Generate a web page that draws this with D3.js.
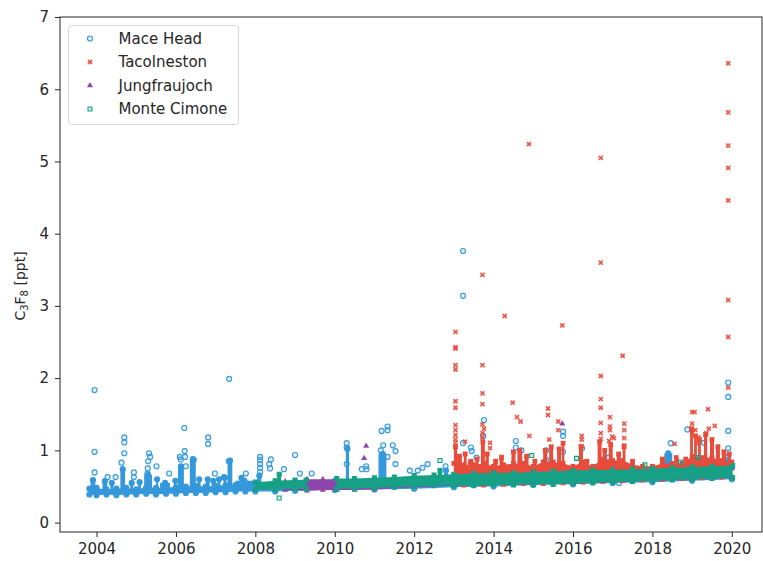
<!DOCTYPE html>
<html>
<head>
<meta charset="utf-8">
<script src="https://cdn.jsdelivr.net/npm/d3@7"></script>
<style>
body { margin: 0; background: #fff; }
text { font-family: "DejaVu Sans", sans-serif; }
</style>
</head>
<body>
<svg id="chart" width="763" height="561"></svg>
<script>
var seriesNames = ["Mace Head", "Tacolneston", "Jungfraujoch", "Monte Cimone"];
var xTicks = [2004, 2006, 2008, 2010, 2012, 2014, 2016, 2018, 2020];
var yTicks = [0, 1, 2, 3, 4, 5, 6, 7];

// dense bulk of each record: [year, low, high]
var maceBand = [
    [2003.82, 0.39, 0.47], [2004.0, 0.38, 0.48], [2004.25, 0.39, 0.46], [2004.5, 0.38, 0.47],
    [2004.75, 0.39, 0.48], [2005.0, 0.39, 0.46], [2005.25, 0.40, 0.49], [2005.5, 0.39, 0.48],
    [2005.75, 0.40, 0.49], [2006.0, 0.40, 0.49], [2006.25, 0.41, 0.50], [2006.5, 0.41, 0.51],
    [2006.75, 0.41, 0.50], [2007.0, 0.42, 0.51], [2007.25, 0.42, 0.52], [2007.5, 0.43, 0.52],
    [2007.75, 0.43, 0.53], [2008.0, 0.43, 0.54], [2008.5, 0.43, 0.55], [2009.0, 0.44, 0.56],
    [2010.0, 0.45, 0.58], [2011.0, 0.46, 0.60], [2012.0, 0.47, 0.62], [2013.0, 0.49, 0.64],
    [2014.0, 0.50, 0.65], [2015.0, 0.52, 0.67], [2016.0, 0.53, 0.68], [2017.0, 0.55, 0.70],
    [2018.0, 0.56, 0.72], [2019.0, 0.58, 0.74], [2020.0, 0.60, 0.76]
];
var tacoBand = [
    [2013.0, 0.52, 0.82], [2013.25, 0.52, 0.80], [2013.5, 0.52, 0.80], [2013.75, 0.52, 0.82],
    [2014.0, 0.53, 0.78], [2014.25, 0.53, 0.80], [2014.5, 0.53, 0.82], [2014.75, 0.54, 0.82],
    [2015.0, 0.54, 0.78], [2015.25, 0.54, 0.84], [2015.5, 0.55, 0.84], [2015.75, 0.55, 0.82],
    [2016.0, 0.55, 0.78], [2016.25, 0.56, 0.84], [2016.5, 0.56, 0.78], [2016.75, 0.57, 0.88],
    [2017.0, 0.57, 0.86], [2017.25, 0.58, 0.86], [2017.5, 0.58, 0.80], [2017.75, 0.59, 0.78],
    [2018.0, 0.59, 0.78], [2018.25, 0.60, 0.82], [2018.5, 0.60, 0.82], [2018.75, 0.61, 0.82],
    [2019.0, 0.61, 0.92], [2019.25, 0.62, 0.90], [2019.5, 0.62, 0.90], [2019.75, 0.63, 0.86],
    [2020.0, 0.63, 0.84]
];
var jungBand = [
    [2008.75, 0.45, 0.57], [2009.3, 0.44, 0.60], [2009.7, 0.45, 0.60], [2010.05, 0.45, 0.60],
    [2010.5, 0.45, 0.59], [2011.0, 0.46, 0.60], [2012.0, 0.49, 0.62], [2013.0, 0.51, 0.64],
    [2014.0, 0.52, 0.65], [2015.0, 0.53, 0.66], [2016.0, 0.54, 0.68], [2017.0, 0.56, 0.69],
    [2018.0, 0.58, 0.71], [2019.0, 0.60, 0.73], [2020.0, 0.62, 0.76]
];
var monteBand1 = [
    [2008.0, 0.46, 0.56], [2008.5, 0.46, 0.58], [2009.0, 0.47, 0.59], [2009.28, 0.47, 0.59]
];
var monteBand2 = [
    [2010.05, 0.47, 0.61], [2010.5, 0.47, 0.61], [2011.0, 0.48, 0.62], [2011.5, 0.49, 0.63],
    [2012.0, 0.50, 0.65], [2012.5, 0.51, 0.66], [2013.0, 0.51, 0.67], [2013.5, 0.51, 0.68],
    [2014.0, 0.52, 0.69], [2014.5, 0.52, 0.69], [2015.0, 0.53, 0.70], [2015.5, 0.53, 0.71],
    [2016.0, 0.54, 0.72], [2016.5, 0.55, 0.73], [2017.0, 0.56, 0.73], [2017.5, 0.57, 0.74],
    [2018.0, 0.58, 0.75], [2018.5, 0.59, 0.76], [2019.0, 0.60, 0.77], [2019.5, 0.61, 0.78],
    [2020.02, 0.62, 0.79]
];

// packed pollution episodes: [yearStart, yearEnd, low, high]
var maceColumns = [
    [2003.85, 2003.97, 0.42, 0.59], [2004.15, 2004.27, 0.42, 0.575], [2004.35, 2004.42, 0.42, 0.55],
    [2004.6, 2004.72, 0.42, 0.74], [2004.85, 2004.92, 0.42, 0.55], [2005.05, 2005.12, 0.42, 0.56],
    [2005.2, 2005.4, 0.42, 0.66], [2005.5, 2005.55, 0.42, 0.60], [2005.6, 2005.85, 0.42, 0.55],
    [2005.95, 2006.02, 0.43, 0.58], [2006.05, 2006.2, 0.43, 0.78], [2006.35, 2006.5, 0.43, 0.88],
    [2006.55, 2006.62, 0.43, 0.60], [2006.75, 2006.85, 0.44, 0.60], [2006.9, 2006.98, 0.44, 0.58],
    [2007.05, 2007.12, 0.44, 0.60], [2007.2, 2007.27, 0.45, 0.62], [2007.3, 2007.42, 0.45, 0.86],
    [2007.5, 2007.95, 0.45, 0.58], [2007.6, 2007.7, 0.45, 0.62], [2008.05, 2008.15, 0.46, 0.65],
    [2010.28, 2010.36, 0.5, 1.02], [2011.1, 2011.3, 0.52, 0.95], [2012.75, 2012.85, 0.55, 0.72],
    [2018.3, 2018.5, 0.65, 0.96], [2019.88, 2019.95, 0.68, 0.85]
];
var tacoColumns = [
    [2013.0, 2013.08, 0.6, 1.05], [2013.08, 2013.2, 0.6, 0.92], [2013.25, 2013.32, 0.6, 0.95],
    [2013.35, 2013.5, 0.6, 0.85], [2013.55, 2013.62, 0.6, 0.88], [2013.68, 2013.78, 0.6, 1.12],
    [2013.8, 2013.88, 0.6, 0.95], [2014.0, 2014.1, 0.6, 0.85], [2014.15, 2014.25, 0.6, 0.90],
    [2014.45, 2014.55, 0.6, 0.98], [2014.6, 2014.72, 0.6, 1.0], [2014.78, 2014.88, 0.6, 0.92],
    [2015.0, 2015.08, 0.6, 0.85], [2015.25, 2015.35, 0.6, 1.0], [2015.4, 2015.5, 0.6, 1.05],
    [2015.6, 2015.7, 0.6, 1.02], [2015.72, 2015.78, 0.6, 1.10], [2016.15, 2016.25, 0.6, 1.05],
    [2016.3, 2016.4, 0.6, 0.85], [2016.62, 2016.72, 0.62, 1.12], [2016.75, 2016.85, 0.62, 1.0],
    [2016.9, 2017.0, 0.62, 1.08], [2017.1, 2017.2, 0.62, 0.95], [2017.25, 2017.32, 0.62, 1.05],
    [2017.45, 2017.55, 0.62, 0.85], [2018.2, 2018.3, 0.64, 0.88], [2018.55, 2018.65, 0.64, 0.90],
    [2018.8, 2018.88, 0.64, 0.88], [2018.95, 2019.02, 0.66, 1.30], [2019.05, 2019.12, 0.66, 1.20],
    [2019.15, 2019.22, 0.66, 1.15], [2019.3, 2019.38, 0.66, 1.22], [2019.45, 2019.55, 0.66, 1.15],
    [2019.6, 2019.7, 0.66, 1.05], [2019.75, 2019.85, 0.66, 0.98], [2019.9, 2019.97, 0.66, 0.95]
];
var jungColumns = [];
var monteColumns = [
    [2008.55, 2008.65, 0.5, 0.67], [2012.6, 2012.7, 0.55, 0.72]
];

// individual readings: [year, ppt]
var macePoints = [
    [2003.95, 1.835], [2003.95, 0.98], [2003.95, 0.695], [2004.28, 0.63], [2004.48, 0.63],
    [2004.63, 0.83], [2004.70, 1.18], [2004.70, 1.11], [2004.70, 0.96], [2004.94, 0.695], [2004.94, 0.63],
    [2005.28, 0.68], [2005.29, 0.75], [2005.30, 0.85], [2005.32, 0.96], [2005.35, 0.91], [2005.51, 0.78],
    [2005.83, 0.68], [2006.10, 0.91], [2006.12, 0.875], [2006.21, 1.31], [2006.22, 0.99], [2006.23, 0.91],
    [2006.25, 0.78], [2006.45, 0.87], [2006.81, 1.18], [2006.81, 1.09], [2006.98, 0.68],
    [2007.21, 0.63], [2007.33, 0.85], [2007.34, 1.99], [2007.76, 0.68],
    [2008.12, 0.91], [2008.12, 0.87], [2008.12, 0.81], [2008.12, 0.76], [2008.12, 0.70],
    [2008.35, 0.81], [2008.37, 0.75], [2008.39, 0.875], [2008.72, 0.74], [2009.00, 0.935],
    [2009.12, 0.68], [2009.42, 0.68], [2010.30, 1.10], [2010.30, 1.04], [2010.30, 0.81],
    [2010.68, 0.74], [2010.79, 0.78], [2010.80, 0.74], [2011.16, 1.0], [2011.18, 1.27],
    [2011.21, 0.945], [2011.22, 1.07], [2011.33, 1.33], [2011.33, 1.28], [2011.33, 0.91],
    [2011.46, 1.07], [2011.53, 0.99], [2011.53, 0.81], [2011.89, 0.72], [2012.09, 0.72],
    [2012.21, 0.76], [2012.34, 0.81], [2012.79, 0.78], [2013.23, 3.76], [2013.23, 3.14],
    [2013.23, 1.10], [2013.43, 1.04], [2013.45, 0.99], [2013.57, 0.90], [2013.74, 1.20], [2013.76, 1.42],
    [2014.56, 1.13], [2014.56, 1.04], [2014.70, 1.0], [2015.32, 1.0], [2015.32, 0.87],
    [2015.75, 1.26], [2015.75, 1.20], [2015.75, 0.98], [2016.23, 1.03], [2016.90, 0.90], [2017.16, 0.55],
    [2018.46, 1.10], [2018.88, 1.29], [2019.30, 1.105], [2019.91, 1.94], [2019.91, 1.74],
    [2019.91, 1.27], [2019.91, 1.03], [2019.91, 0.91], [2019.91, 0.87]
];
var tacoPoints = [
    [2013.04, 2.64], [2013.04, 2.43], [2013.04, 2.41], [2013.04, 2.18], [2013.04, 2.12], [2013.04, 1.68],
    [2013.04, 1.59], [2013.04, 1.35], [2013.04, 1.28], [2013.04, 1.21], [2013.04, 1.15], [2013.04, 1.10],
    [2013.28, 1.12], [2013.72, 3.43], [2013.72, 2.18], [2013.72, 1.79], [2013.72, 1.64], [2013.72, 1.36],
    [2013.72, 1.24], [2013.72, 1.18], [2013.76, 1.30], [2013.91, 1.105], [2013.91, 1.03],
    [2014.20, 0.91], [2014.28, 2.86], [2014.48, 1.66], [2014.59, 1.46], [2014.68, 1.40],
    [2014.89, 5.24], [2014.90, 1.20], [2015.37, 1.58], [2015.37, 1.49], [2015.40, 1.15],
    [2015.63, 1.40], [2015.63, 1.28], [2015.73, 2.73], [2016.22, 1.20], [2016.22, 1.15], [2016.22, 1.06],
    [2016.70, 5.05], [2016.70, 3.60], [2016.70, 2.03], [2016.70, 1.71], [2016.70, 1.59], [2016.70, 1.38],
    [2016.70, 1.24], [2016.70, 1.16], [2016.91, 1.13], [2016.93, 1.46], [2016.93, 1.33], [2016.93, 1.28],
    [2016.99, 1.19], [2017.03, 1.17], [2017.25, 2.31], [2017.29, 1.37], [2017.29, 1.28], [2017.29, 1.17],
    [2017.29, 1.07], [2018.56, 1.09], [2018.87, 0.82], [2019.00, 1.53], [2019.00, 1.37], [2019.00, 1.28],
    [2019.00, 1.24], [2019.06, 1.53], [2019.08, 1.28], [2019.16, 1.18], [2019.16, 1.10],
    [2019.36, 1.24], [2019.40, 1.57], [2019.42, 1.30], [2019.57, 1.34],
    [2019.91, 6.36], [2019.91, 5.68], [2019.91, 5.22], [2019.91, 4.91], [2019.91, 4.46],
    [2019.91, 3.08], [2019.91, 2.57], [2019.91, 1.87]
];
var jungPoints = [[2010.74, 0.89], [2010.79, 1.06], [2015.73, 1.37]];
var montePoints = [
    [2008.6, 0.34], [2012.65, 0.86], [2014.96, 0.93], [2016.09, 0.89], [2017.81, 0.80],
    [2018.71, 0.84], [2019.15, 0.90]
];

var colors = ["#3498db", "#e74c3c", "#8e44ad", "#16a085"];

var series = [
    {name: seriesNames[0], bands: [maceBand], columns: maceColumns, points: macePoints},
    {name: seriesNames[1], bands: [tacoBand], columns: tacoColumns, points: tacoPoints},
    {name: seriesNames[2], bands: [jungBand], columns: jungColumns, points: jungPoints},
    {name: seriesNames[3], bands: [monteBand1, monteBand2], columns: monteColumns, points: montePoints}
];

var margin = {top: 17, right: 1, bottom: 29, left: 60};
var svg = d3.select("#chart");
var width = +svg.attr("width") - margin.left - margin.right;
var height = +svg.attr("height") - margin.top - margin.bottom;

var x = d3.scaleLinear().domain([2003.08, 2020.76]).range([margin.left, margin.left + width]);
var y = d3.scaleLinear().domain([-0.13, 7]).range([margin.top + height, margin.top]);

svg.append("clipPath").attr("id", "clip")
    .append("rect").attr("x", margin.left).attr("y", margin.top).attr("width", width).attr("height", height);

var plot = svg.append("g").attr("clip-path", "url(#clip)");

var area = d3.area()
    .x(function (d) { return x(d[0]); })
    .y0(function (d) { return y(d[1]); })
    .y1(function (d) { return y(d[2]); });

// edge markers are packed so tightly in the original that they read as solid
function marker(g, i, px, py, edge) {
    var c = colors[i];
    var t = "translate(" + px + "," + py + ")";
    if (i === 0) {
        g.append("path").attr("transform", t)
            .attr("d", d3.symbol().type(d3.symbolCircle).size(20)())
            .attr("fill", c).attr("fill-opacity", edge ? 1 : 0.15)
            .attr("stroke", c).attr("stroke-width", 1.1);
    } else if (i === 1) {
        g.append("path").attr("transform", t)
            .attr("d", d3.symbol().type(d3.symbolSquare).size(22)())
            .attr("fill", c).attr("fill-opacity", edge ? 1 : 0.35);
        g.append("path").attr("transform", t)
            .attr("d", d3.symbol().type(d3.symbolTimes).size(12)())
            .attr("fill", "none").attr("stroke", c).attr("stroke-width", 1.2);
    } else if (i === 2) {
        g.append("path").attr("transform", t)
            .attr("d", d3.symbol().type(d3.symbolTriangle).size(16)())
            .attr("fill", c);
    } else {
        g.append("path").attr("transform", t)
            .attr("d", d3.symbol().type(d3.symbolSquare).size(16)())
            .attr("fill", c).attr("fill-opacity", edge ? 1 : 0.2)
            .attr("stroke", c).attr("stroke-width", 1.1);
    }
}

series.forEach(function (s, i) {
    var g = plot.append("g");
    s.bands.forEach(function (b) {
        g.append("path").datum(b).attr("d", area).attr("fill", colors[i]);
    });
    g.selectAll("rect.col").data(s.columns).enter().append("rect")
        .attr("class", "col")
        .attr("x", function (d) { return x(d[0]); })
        .attr("width", function (d) { return x(d[1]) - x(d[0]); })
        .attr("y", function (d) { return y(d[3]); })
        .attr("height", function (d) { return y(d[2]) - y(d[3]); })
        .attr("fill", colors[i]);
    s.bands.forEach(function (b) {
        b.forEach(function (d) {
            marker(g, i, x(d[0]), y(d[1]), true);
            marker(g, i, x(d[0]), y(d[2]), true);
        });
    });
    s.columns.forEach(function (d) {
        marker(g, i, (x(d[0]) + x(d[1])) / 2, y(d[3]), true);
    });
    s.points.forEach(function (d) {
        marker(g, i, x(d[0]), y(d[1]), false);
    });
});

// axes
var xAxis = svg.append("g")
    .attr("transform", "translate(0," + (margin.top + height) + ")")
    .call(d3.axisBottom(x).tickValues(xTicks).tickFormat(d3.format("d")).tickSizeOuter(0).tickSize(5).tickPadding(6));
var yAxis = svg.append("g")
    .attr("transform", "translate(" + margin.left + ",0)")
    .call(d3.axisLeft(y).tickValues(yTicks).tickSizeOuter(0).tickSize(5).tickPadding(6));
[xAxis, yAxis].forEach(function (a) {
    a.selectAll("text").attr("font-size", 15).attr("fill", "#262626").style("font-family", "DejaVu Sans");
    a.selectAll("line").attr("stroke", "#262626");
    a.select(".domain").remove();
});

// frame
svg.append("rect")
    .attr("x", margin.left).attr("y", margin.top)
    .attr("width", width).attr("height", height)
    .attr("fill", "none").attr("stroke", "#262626").attr("stroke-width", 1);

// y label
var yl = svg.append("text")
    .attr("transform", "translate(25,286) rotate(-90)")
    .attr("text-anchor", "middle")
    .attr("font-size", 14)
    .attr("fill", "#262626");
yl.append("tspan").text("C");
yl.append("tspan").attr("font-size", 10).attr("dy", 3).text("3");
yl.append("tspan").attr("dy", -3).text("F");
yl.append("tspan").attr("font-size", 10).attr("dy", 3).text("8");
yl.append("tspan").attr("dy", -3).text(" [ppt]");

// legend
var legend = svg.append("g");
legend.append("rect")
    .attr("x", 68.5).attr("y", 25.5).attr("width", 170).attr("height", 99).attr("rx", 3)
    .attr("fill", "#fff").attr("fill-opacity", 0.8)
    .attr("stroke", "#d6d6d6").attr("stroke-width", 1);
seriesNames.forEach(function (n, i) {
    var ly = 38.5 + i * 23.5;
    marker(legend, i, 90, ly, false);
    legend.append("text")
        .attr("x", 118.5).attr("y", ly)
        .attr("dy", "0.36em")
        .attr("font-size", 15)
        .attr("fill", "#262626")
        .text(n);
});
</script>
</body>
</html>
